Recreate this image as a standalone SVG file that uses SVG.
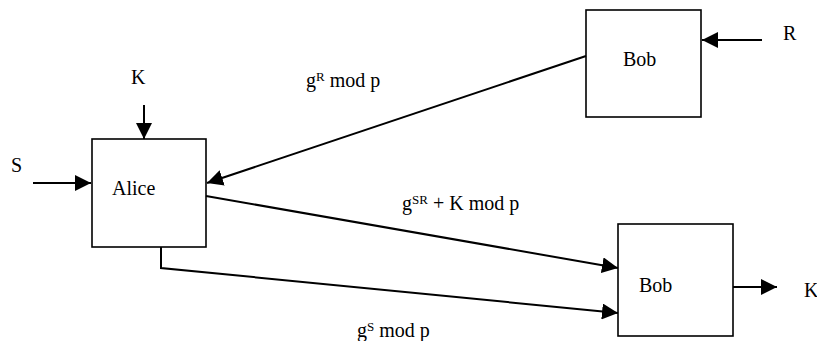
<svg xmlns="http://www.w3.org/2000/svg" width="817" height="341" viewBox="0 0 817 341">
<style>
.box{fill:#fff;stroke:#000;stroke-width:1.6}
.sup{font-size:13px}
.c{fill:none;stroke:#000;stroke-width:2}
</style>
<defs>
<marker id="ah" markerUnits="userSpaceOnUse" markerWidth="16" markerHeight="16" refX="16" refY="8" orient="auto">
<path d="M0,0 L16,8 L0,16 Z" fill="#000"/>
</marker>
</defs>
<rect width="817" height="341" fill="#fff"/>
<g font-family="Liberation Serif, 'Times New Roman', serif" font-size="20">
<g id="alice">
<rect class="box" x="92" y="139" width="114" height="108"/>
<text x="112" y="195">Alice</text>
</g>
<g id="bob1">
<rect class="box" x="586" y="10" width="115" height="107"/>
<text x="623" y="66">Bob</text>
</g>
<g id="bob2">
<rect class="box" x="618" y="224" width="115" height="112"/>
<text x="639" y="292">Bob</text>
</g>
<g id="inputs">
<text x="131" y="84">K</text>
<text x="11" y="172">S</text>
<text x="783" y="40">R</text>
<text x="804" y="297">K</text>
</g>
<g id="connectors">
<line class="c" x1="144" y1="105" x2="144" y2="139" marker-end="url(#ah)"/>
<line class="c" x1="33" y1="183" x2="91" y2="183" marker-end="url(#ah)"/>
<line class="c" x1="762" y1="40" x2="702" y2="40" marker-end="url(#ah)"/>
<line class="c" x1="733" y1="287" x2="777" y2="287" marker-end="url(#ah)"/>
<line class="c" x1="586" y1="56" x2="207" y2="183" marker-end="url(#ah)"/>
<line class="c" x1="206" y1="196" x2="618" y2="268" marker-end="url(#ah)"/>
<polyline class="c" points="161,247 161,268 618,313" marker-end="url(#ah)"/>
</g>
<g id="labels">
<text x="306" y="87">g<tspan class="sup" dy="-6">R</tspan><tspan dy="6"> mod p</tspan></text>
<text x="402" y="210">g<tspan class="sup" dy="-6">SR</tspan><tspan dy="6"> + K mod p</tspan></text>
<text x="357" y="337">g<tspan class="sup" dy="-6">S</tspan><tspan dy="6"> mod p</tspan></text>
</g>
</g>
</svg>
